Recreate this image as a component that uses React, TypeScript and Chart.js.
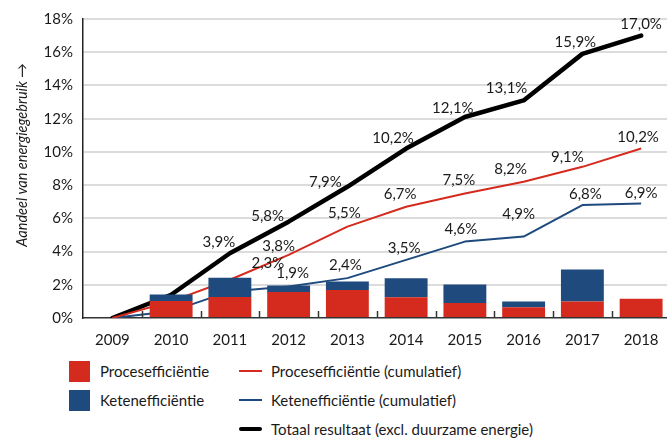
import React, { useEffect, useRef } from "react";
import { Chart, registerables } from "chart.js";

Chart.register(...registerables);

const YEARS = ["2009", "2010", "2011", "2012", "2013", "2014", "2015", "2016", "2017", "2018"];
const PROCES_BAR = [0, 1.02, 1.26, 1.56, 1.68, 1.25, 0.9, 0.65, 1.0, 1.16];
const KETEN_BAR = [0, 0.4, 1.16, 0.4, 0.52, 1.14, 1.12, 0.35, 1.92, 0];
const PROCES_CUM = [0, 1.0, 2.3, 3.8, 5.5, 6.7, 7.5, 8.2, 9.1, 10.2];
const KETEN_CUM = [0, 0.4, 1.6, 1.9, 2.4, 3.5, 4.6, 4.9, 6.8, 6.9];
const TOTAAL = [0, 1.4, 3.9, 5.8, 7.9, 10.2, 12.1, 13.1, 15.9, 17.0];
const Y_MIN = 0;
const Y_MAX = 18;
const Y_STEP = 2;

const LABELS = {
  proces: "Procesefficiëntie",
  keten: "Ketenefficiëntie",
  procesCum: "Procesefficiëntie (cumulatief)",
  ketenCum: "Ketenefficiëntie (cumulatief)",
  totaal: "Totaal resultaat (excl. duurzame energie)",
};
const Y_TITLE = "Aandeel van energiegebruik →";

const RED = "#d52b1e";
const BLUE = "#1f4a7e";
const BLACK = "#000000";
const TEXT = "#1a1a1a";
const FONT = "Lato, 'Noto Sans', sans-serif";

// label placement (style): [dx, dy] relative to the point, null = no label
const LABEL_OFFSETS: Record<string, ([number, number] | null)[]> = {
  totaal: [null, null, [-11, -11], [-21, -5], [-22, -5], [-13, -10], [-12, -9], [-17, -12], [-7, -12], [0, -11]],
  procesCum: [null, null, [38, -17], [-10, -9], [-3, -13], [-6, -13], [-6, -13], [-13, -13], [-15, -10], [-3, -11]],
  ketenCum: [null, null, null, [4, -13], [-2, -13], [-2, -12], [-4, -12], [-5, -22], [3, -11], [0, -10]],
};

const fmt = (v: number) => v.toFixed(1).replace(".", ",") + "%";

const overlayPlugin = {
  id: "overlay",
  afterDatasetsDraw(chart: any) {
    const ctx = chart.ctx;
    const x = chart.scales.x;
    const area = chart.chartArea;
    ctx.save();
    // category boundary tick marks (inside, upward)
    ctx.strokeStyle = "#333";
    ctx.lineWidth = 1.5;
    for (let i = 1; i < YEARS.length; i++) {
      const px = Math.round((x.getPixelForValue(i - 1) + x.getPixelForValue(i)) / 2) + 0.5;
      ctx.beginPath();
      ctx.moveTo(px, area.bottom);
      ctx.lineTo(px, area.bottom - 7);
      ctx.stroke();
    }
    // data labels
    ctx.font = `15px ${FONT}`;
    ctx.fillStyle = TEXT;
    ctx.textAlign = "center";
    ctx.textBaseline = "middle";
    chart.data.datasets.forEach((ds: any, di: number) => {
      const offs = LABEL_OFFSETS[ds.key];
      if (!offs) return;
      const meta = chart.getDatasetMeta(di);
      meta.data.forEach((pt: any, i: number) => {
        const o = offs[i];
        if (!o) return;
        ctx.fillText(fmt(ds.data[i]), pt.x + o[0], pt.y + o[1]);
      });
    });
    // y axis title
    ctx.font = `italic 14.5px ${FONT}`;
    ctx.translate(22, 155);
    ctx.rotate(-Math.PI / 2);
    ctx.fillText(Y_TITLE, 0, 0);
    ctx.restore();
  },
};

function LegendItem({ kind, color, label, left, top }: any) {
  return (
    <div style={{ position: "absolute", left, top, height: 22, display: "flex", alignItems: "center" }}>
      {kind === "box" ? (
        <div style={{ width: 21, height: 21, background: color }} />
      ) : (
        <div
          style={{
            width: 23,
            height: kind === "thick" ? 4 : 2,
            background: color,
            borderRadius: kind === "thick" ? 2 : 0,
          }}
        />
      )}
      <span style={{ marginLeft: kind === "box" ? 10 : 9, font: `15px ${FONT}`, color: TEXT, whiteSpace: "nowrap" }}>
        {label}
      </span>
    </div>
  );
}

export default function App() {
  const ref = useRef<HTMLCanvasElement | null>(null);

  useEffect(() => {
    if (!ref.current) return;
    const chart = new Chart(ref.current, {
      type: "bar",
      data: {
        labels: YEARS,
        datasets: [
          { key: "proces", type: "bar", label: LABELS.proces, data: PROCES_BAR, backgroundColor: RED, stack: "bars", order: 0, barPercentage: 0.73, categoryPercentage: 1 } as any,
          { key: "keten", type: "bar", label: LABELS.keten, data: KETEN_BAR, backgroundColor: BLUE, stack: "bars", order: 0, barPercentage: 0.73, categoryPercentage: 1 } as any,
          { key: "procesCum", type: "line", label: LABELS.procesCum, data: PROCES_CUM, borderColor: RED, borderWidth: 2, pointRadius: 0, stack: "l1", order: 1, borderJoinStyle: "round" } as any,
          { key: "ketenCum", type: "line", label: LABELS.ketenCum, data: KETEN_CUM, borderColor: BLUE, borderWidth: 2, pointRadius: 0, stack: "l2", order: 1, borderJoinStyle: "round" } as any,
          { key: "totaal", type: "line", label: LABELS.totaal, data: TOTAAL, borderColor: BLACK, borderWidth: 4.5, pointRadius: 0, stack: "l3", order: 1, borderJoinStyle: "round", borderCapStyle: "round" } as any,
        ],
      },
      options: {
        responsive: false,
        animation: false,
        devicePixelRatio: 1,
        layout: { padding: { top: 17, right: 1.5, left: 0, bottom: 0 } },
        plugins: { legend: { display: false }, tooltip: { enabled: false } },
        scales: {
          x: {
            stacked: true,
            offset: true,
            grid: { display: false },
            border: { color: "#333", width: 1.5 },
            ticks: { color: TEXT, font: { family: FONT, size: 15 }, padding: 5, maxRotation: 0 },
            afterFit: (s: any) => { s.height = 32; },
          },
          y: {
            stacked: true,
            min: Y_MIN,
            max: Y_MAX,
            grid: {
              color: (c: any) => (c.tick && c.tick.value === 0 ? "rgba(0,0,0,0)" : "#dcdcdc"),
              lineWidth: 2,
              drawTicks: false,
            },
            border: { color: "#222", width: 1.5 },
            ticks: {
              stepSize: Y_STEP,
              padding: 10,
              color: TEXT,
              font: { family: FONT, size: 15 },
              callback: (v: any) => v + "%",
            },
            afterFit: (s: any) => { s.width = 83; },
          },
        },
      } as any,
      plugins: [overlayPlugin],
    });
    return () => chart.destroy();
  }, []);

  return (
    <div style={{ position: "absolute", left: 0, top: 0, width: 667, height: 438, overflow: "hidden", background: "#fff" }}>
      <canvas ref={ref} width={672} height={350} style={{ position: "absolute", left: 0, top: 0 }} />
      <LegendItem kind="box" color={RED} label={LABELS.proces} left={69} top={360} />
      <LegendItem kind="box" color={BLUE} label={LABELS.keten} left={69} top={389} />
      <LegendItem kind="line" color={RED} label={LABELS.procesCum} left={239} top={360} />
      <LegendItem kind="line" color={BLUE} label={LABELS.ketenCum} left={239} top={389} />
      <LegendItem kind="thick" color={BLACK} label={LABELS.totaal} left={239} top={418} />
    </div>
  );
}
